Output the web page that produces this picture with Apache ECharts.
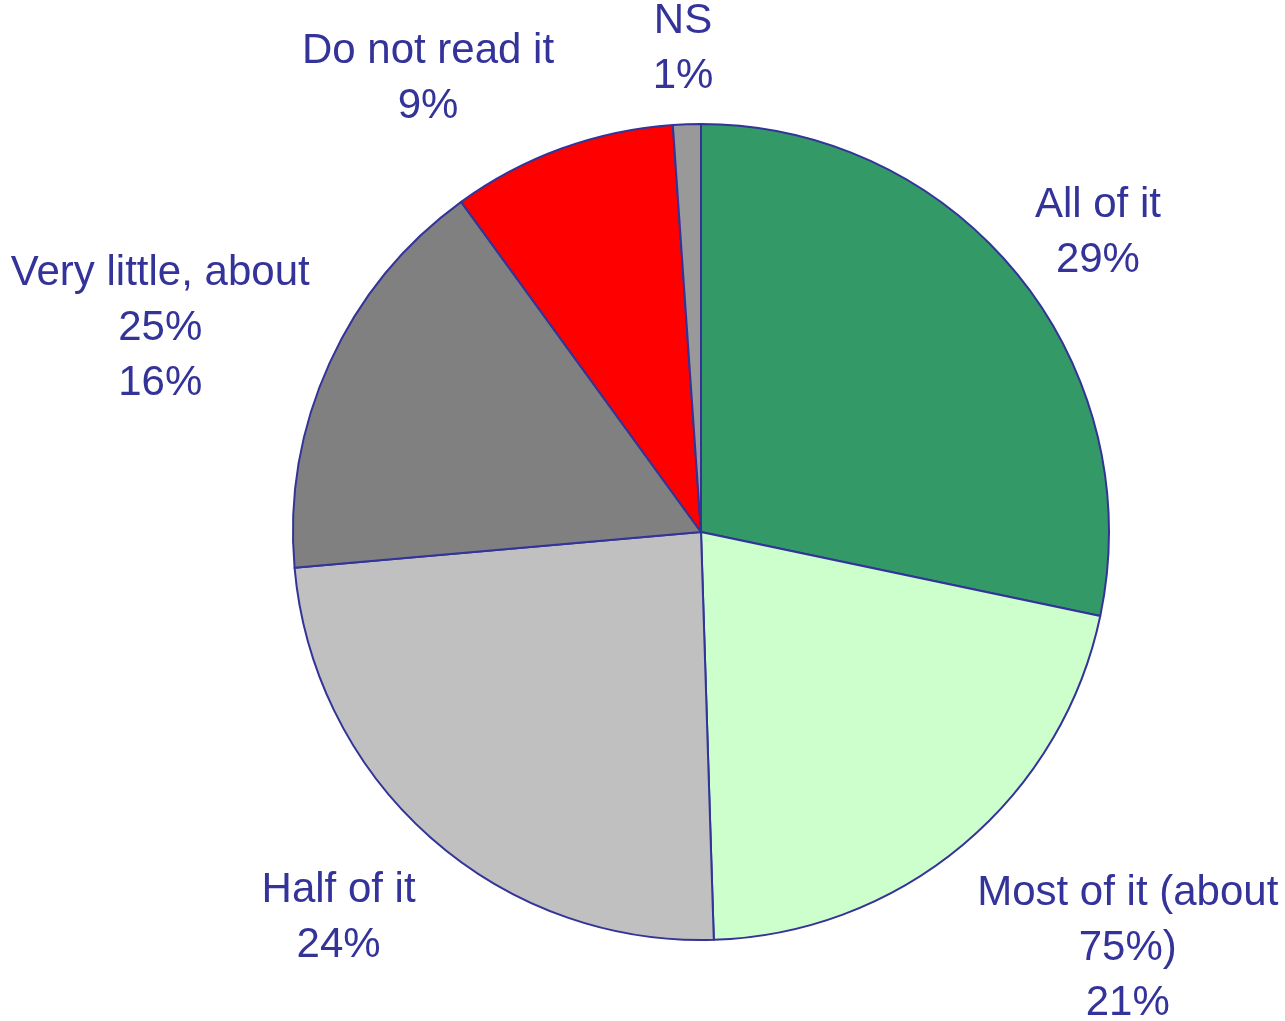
<!DOCTYPE html>
<html>
<head>
<meta charset="utf-8">
<script src="https://cdn.jsdelivr.net/npm/echarts@6/dist/echarts.min.js"></script>
<style>
  html, body { margin: 0; padding: 0; background: #fff; }
  #chart { width: 1285px; height: 1021px; }
</style>
</head>
<body>
<div id="chart"></div>
<script>
// categories, clockwise from 12 o'clock
const categories = ['All of it', 'Most of it (about\n75%)', 'Half of it', 'Very little, about\n25%', 'Do not read it', 'NS'];
// slice sizes as drawn (%)
const values = [28.3, 21.2, 24.1, 16.4, 8.9, 1.1];
// percentages printed on the labels
const labelPct = [29, 21, 24, 16, 9, 1];
const colors = ['#339966', '#CCFFCC', '#C0C0C0', '#808080', '#FF0000', '#999999'];

const CX = 701, CY = 532, R = 408;
const total = values.reduce((a, b) => a + b, 0);

// mid angle of each slice, radians, clockwise from up
let acc = 0;
const midAngles = values.map(v => {
  const m = (acc + v / 2) / total * Math.PI * 2;
  acc += v;
  return m;
});

const chart = echarts.init(document.getElementById('chart'));

chart.setOption({
  animation: false,
  series: [{
    type: 'pie',
    center: [CX, CY],
    radius: R,
    startAngle: 90,
    clockwise: true,
    data: categories.map((name, i) => ({ name: name, value: values[i], itemStyle: { color: colors[i] } })),
    itemStyle: {
      borderColor: '#333399',
      borderWidth: 2
    },
    label: {
      show: true,
      position: 'outside',
      formatter: p => p.name + '\n' + labelPct[p.dataIndex] + '%',
      fontFamily: '"Liberation Sans", Arial, sans-serif',
      fontSize: 42,
      lineHeight: 55,
      color: '#333399',
      align: 'center',
      overflow: 'none'
    },
    labelLine: { show: false },
    emphasis: { disabled: true },
    labelLayout: function (params) {
      // anchor just outside the rim, box pushed outward from it
      const a = midAngles[params.dataIndex];
      const s = Math.sin(a), c = Math.cos(a);
      const d = R + 22;
      const px = CX + d * s, py = CY - d * c;
      const w = params.labelRect.width, h = params.labelRect.height;
      const kx = Math.max(-1, Math.min(1, s * 3));
      let x = px + kx * w / 2;
      const y = py - c * (h / 2 + 12) + 14;
      x = Math.min(x, 1285 - w / 2 - 4);
      x = Math.max(x, w / 2 + 4);
      return { x: x, y: y, align: 'center', verticalAlign: 'middle' };
    }
  }]
});
</script>
</body>
</html>
